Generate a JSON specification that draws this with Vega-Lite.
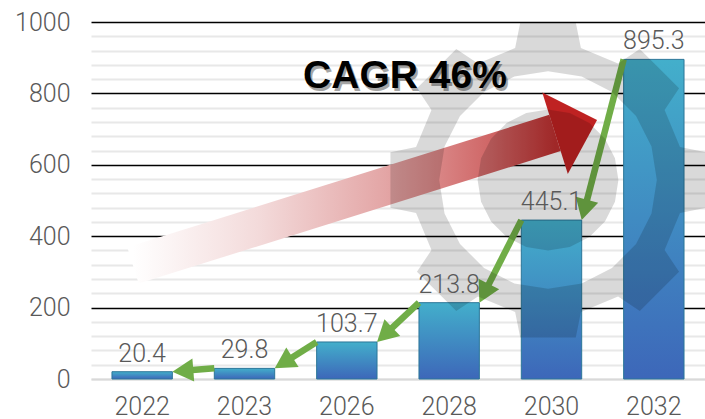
{
  "$schema": "https://vega.github.io/schema/vega-lite/v6.json",
  "width": 614,
  "height": 357,
  "autosize": {"type": "none"},
  "padding": {"left": 91, "top": 22, "right": 0, "bottom": 40},
  "background": "white",
  "config": {"view": {"stroke": null}, "font": "Roboto"},
  "datasets": {
    "bars": [
      {"year": "2022", "value": 20.4},
      {"year": "2023", "value": 29.8},
      {"year": "2026", "value": 103.7},
      {"year": "2028", "value": 213.8},
      {"year": "2030", "value": 445.1},
      {"year": "2032", "value": 895.3}
    ],
    "green": [
      {"k": 1, "x0": 5.205, "y0": 895.3, "xs": 4.83, "ys": 483.0, "x1": 4.795, "y1": 445.1},
      {"k": 2, "x0": 4.205, "y0": 445.1, "xs": 3.857, "ys": 248.8, "x1": 3.795, "y1": 213.8},
      {"k": 3, "x0": 3.205, "y0": 213.8, "xs": 2.895, "ys": 130.5, "x1": 2.795, "y1": 103.7},
      {"k": 4, "x0": 2.205, "y0": 103.7, "xs": 1.911, "ys": 50.7, "x1": 1.795, "y1": 29.8},
      {"k": 5, "x0": 1.205, "y0": 29.8, "xs": 0.931, "ys": 23.5, "x1": 0.795, "y1": 20.4}
    ],
    "red": [
      {"x0": 0.41, "y0": 318.0, "xs": 4.534, "ys": 689.1, "x1": 4.945, "y1": 725.5}
    ],
    "gear": [{"x": 4.466, "y": 557.4}],
    "note": [{"x": 3.068, "y": 815, "label": "CAGR 46%"}]
  },
  "resolve": {"scale": {"x": "independent"}},
  "layer": [
    {
      "data": {"name": "bars"},
      "mark": {
        "type": "bar",
        "color": {"gradient": "linear", "x1": 0, "y1": 0, "x2": 0, "y2": 1,
          "stops": [{"offset": 0, "color": "#43afcb"}, {"offset": 1, "color": "#3d67b9"}]},
        "stroke": "#2b7698",
        "strokeWidth": 1
      },
      "encoding": {
        "x": {
          "field": "year", "type": "nominal", "sort": null,
          "scale": {"paddingInner": 0.41, "paddingOuter": 0.205},
          "axis": {"title": null, "labelFontSize": 25, "labelColor": "#595959", "labelFont": "Roboto", "labelFontWeight": 300,
            "labelPadding": 15, "ticks": false, "domain": true, "domainColor": "#d9d9d9", "domainWidth": 2, "labelAngle": 0, "grid": false}
        },
        "y": {
          "field": "value", "type": "quantitative", "title": null,
          "scale": {"domain": [0, 1000], "nice": false},
          "axis": {
            "title": null,
            "format": "d",
            "tickCount": 40,
            "values": [0, 40, 80, 120, 160, 200, 240, 280, 320, 360, 400, 440, 480, 520, 560, 600, 640, 680, 720, 760, 800, 840, 880, 920, 960, 1000],
            "labelExpr": "datum.value % 200 === 0 ? datum.label : ''",
            "labelOverlap": false,
            "labelBound": false,
            "labelFontSize": 25, "labelColor": "#595959", "labelFont": "Roboto", "labelFontWeight": 300,
            "labelPadding": 21, "ticks": false, "domain": false, "grid": true,
            "gridColor": {"condition": {"test": "datum.value % 200 === 0 && datum.value > 0", "value": "#000000"}, "value": "#e8e8e8"},
            "gridWidth": {"condition": {"test": "datum.value % 200 === 0 && datum.value > 0", "value": 1.5}, "value": 2}
          }
        }
      }
    },
    {
      "data": {"name": "red"},
      "mark": {
        "type": "rule", "strokeWidth": 38, "strokeCap": "butt",
        "color": {"gradient": "linear", "x1": 0, "y1": 0, "x2": 1, "y2": 0,
          "stops": [
            {"offset": 0, "color": "#ffffff"},
            {"offset": 0.3, "color": "#f3dada"},
            {"offset": 0.6, "color": "#e3a5a5"},
            {"offset": 0.85, "color": "#cf6565"},
            {"offset": 1, "color": "#bd3030"}
          ]}
      },
      "encoding": {
        "x": {"field": "x0", "type": "quantitative", "scale": {"domain": [0, 6], "nice": false, "zero": false}, "axis": null},
        "x2": {"field": "xs"},
        "y": {"field": "y0", "type": "quantitative", "title": null, "scale": {"domain": [0, 1000], "nice": false}},
        "y2": {"field": "ys"}
      }
    },
    {
      "data": {"name": "red"},
      "mark": {"type": "point", "shape": "M0,0L-1,-0.97L-1,0.97Z", "filled": true, "size": 7744, "color": "#bf2222", "opacity": 1, "angle": 342.6},
      "encoding": {
        "x": {"field": "x1", "type": "quantitative", "scale": {"domain": [0, 6], "nice": false, "zero": false}, "axis": null},
        "y": {"field": "y1", "type": "quantitative", "title": null, "scale": {"domain": [0, 1000], "nice": false}}
      }
    },
    {
      "data": {"name": "green"},
      "mark": {"type": "rule", "strokeWidth": 6.5, "strokeCap": "butt", "color": "#70ad47"},
      "encoding": {
        "x": {"field": "x0", "type": "quantitative", "scale": {"domain": [0, 6], "nice": false, "zero": false}, "axis": null},
        "x2": {"field": "xs"},
        "y": {"field": "y0", "type": "quantitative", "title": null, "scale": {"domain": [0, 1000], "nice": false}},
        "y2": {"field": "ys"}
      }
    },
    {
      "data": {"name": "green"},
      "mark": {"type": "point", "shape": "M0,0L-1,-0.55L-1,0.55Z", "filled": true, "size": 1764, "color": "#70ad47", "opacity": 1},
      "encoding": {
        "x": {"field": "x1", "type": "quantitative", "scale": {"domain": [0, 6], "nice": false, "zero": false}, "axis": null},
        "y": {"field": "y1", "type": "quantitative", "title": null, "scale": {"domain": [0, 1000], "nice": false}},
        "angle": {"field": "k", "type": "quantitative", "scale": {"domain": [1, 2, 3, 4, 5], "range": [104.6, 116.9, 136.9, 147.8, 175.5]}, "legend": null}
      }
    },
    {
      "data": {"name": "gear"},
      "mark": {
        "type": "point",
        "shape": "M-0.2056,-0.8248L-0.1736,-0.9848L0.1736,-0.9848L0.2056,-0.8248L0.4378,-0.7286L0.5736,-0.8192L0.8192,-0.5736L0.7286,-0.4378L0.8248,-0.2056L0.9848,-0.1736L0.9848,0.1736L0.8248,0.2056L0.7286,0.4378L0.8192,0.5736L0.5736,0.8192L0.4378,0.7286L0.2056,0.8248L0.1736,0.9848L-0.1736,0.9848L-0.2056,0.8248L-0.4378,0.7286L-0.5736,0.8192L-0.8192,0.5736L-0.7286,0.4378L-0.8248,0.2056L-0.9848,0.1736L-0.9848,-0.1736L-0.8248,-0.2056L-0.7286,-0.4378L-0.8192,-0.5736L-0.5736,-0.8192L-0.4378,-0.7286ZM0.68,0L0.6467,-0.2101L0.5501,-0.3997L0.3997,-0.5501L0.2101,-0.6467L0,-0.68L-0.2101,-0.6467L-0.3997,-0.5501L-0.5501,-0.3997L-0.6467,-0.2101L-0.68,0L-0.6467,0.2101L-0.5501,0.3997L-0.3997,0.5501L-0.2101,0.6467L0,0.68L0.2101,0.6467L0.3997,0.5501L0.5501,0.3997L0.6467,0.2101ZM0.44,0L0.4185,0.136L0.356,0.2586L0.2586,0.356L0.136,0.4185L0,0.44L-0.136,0.4185L-0.2586,0.356L-0.356,0.2586L-0.4185,0.136L-0.44,0L-0.4185,-0.136L-0.356,-0.2586L-0.2586,-0.356L-0.136,-0.4185L0,-0.44L0.136,-0.4185L0.2586,-0.356L0.356,-0.2586L0.4185,-0.136Z",
        "filled": true, "size": 102400, "color": "#000000", "opacity": 0.15
      },
      "encoding": {
        "x": {"field": "x", "type": "quantitative", "scale": {"domain": [0, 6], "nice": false, "zero": false}, "axis": null},
        "y": {"field": "y", "type": "quantitative", "title": null, "scale": {"domain": [0, 1000], "nice": false}}
      }
    },
    {
      "data": {"name": "bars"},
      "mark": {"type": "text", "baseline": "alphabetic", "dy": -10, "fontSize": 25, "font": "Roboto", "fontWeight": 300, "color": "#595959"},
      "encoding": {
        "x": {"field": "year", "type": "nominal", "sort": null, "scale": {"paddingInner": 0.41, "paddingOuter": 0.205}, "axis": null},
        "y": {"field": "value", "type": "quantitative", "title": null, "scale": {"domain": [0, 1000], "nice": false}},
        "text": {"field": "value", "type": "quantitative", "format": ".1f"}
      }
    },
    {
      "data": {"name": "note"},
      "mark": {"type": "text", "font": "Liberation Sans", "fontWeight": "bold", "fontSize": 39, "baseline": "alphabetic", "align": "center", "dx": 2, "dy": 3, "color": "#000000", "opacity": 0.35},
      "encoding": {
        "x": {"field": "x", "type": "quantitative", "scale": {"domain": [0, 6], "nice": false, "zero": false}, "axis": null},
        "y": {"field": "y", "type": "quantitative", "title": null, "scale": {"domain": [0, 1000], "nice": false}},
        "text": {"field": "label"}
      }
    },
    {
      "data": {"name": "note"},
      "mark": {"type": "text", "font": "Liberation Sans", "fontWeight": "bold", "fontSize": 39, "baseline": "alphabetic", "align": "center", "color": "#000000"},
      "encoding": {
        "x": {"field": "x", "type": "quantitative", "scale": {"domain": [0, 6], "nice": false, "zero": false}, "axis": null},
        "y": {"field": "y", "type": "quantitative", "title": null, "scale": {"domain": [0, 1000], "nice": false}},
        "text": {"field": "label"}
      }
    }
  ]
}
